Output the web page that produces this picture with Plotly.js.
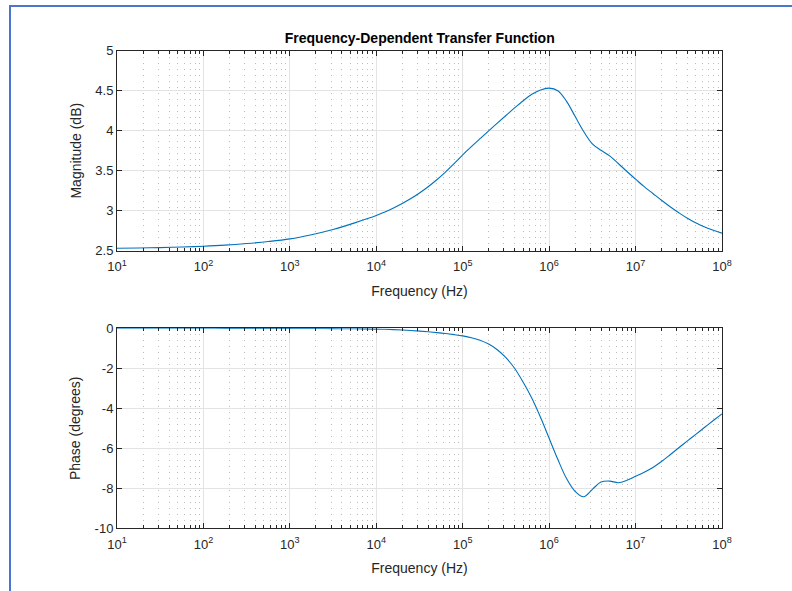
<!DOCTYPE html>
<html>
<head>
<meta charset="utf-8">
<script src="https://cdn.plot.ly/plotly-3.0.1.min.js"></script>
<style>
  html, body { margin: 0; padding: 0; background: #fff; }
  #wrap { position: relative; width: 792px; height: 591px; overflow: hidden; }
  #chart { width: 792px; height: 591px; }
  #frame { position: absolute; left: 9px; top: 5px; width: 800px; height: 600px;
           border-left: 2px solid #4a76d0; border-top: 2px solid #4a76d0; pointer-events: none; }
</style>
</head>
<body>
<div id="wrap">
  <div id="chart"></div>
  <div id="frame"></div>
</div>
<script>
// Frequencies (Hz), shared by both curves
const freq = [10, 17.78, 31.62, 56.23, 100, 177.8, 316.2, 562.3, 1000, 1778, 3162, 5623,
  10000, 12589, 15849, 19953, 25119, 31623, 39811, 50119, 63096, 79433,
  100000, 125893, 158489, 199526, 251189, 316228, 398107, 501187, 630957, 794328,
  1000000, 1258925, 1584893, 1995262, 2511886, 3162278, 3981072, 5011872, 6309573, 7943282,
  1.0e7, 1.2589e7, 1.5849e7, 1.9953e7, 2.5119e7, 3.1623e7, 3.9811e7, 5.0119e7, 6.3096e7, 7.9433e7,
  1.0e8];

// Magnitude (dB)
const magDb = [2.53, 2.534, 2.539, 2.546, 2.556, 2.57, 2.59, 2.615, 2.648, 2.70, 2.765, 2.848,
  2.94, 2.985, 3.035, 3.09, 3.152, 3.222, 3.30, 3.387, 3.483, 3.588,
  3.698, 3.80, 3.90, 3.998, 4.095, 4.19, 4.285, 4.375, 4.455, 4.51,
  4.532, 4.50, 4.37, 4.18, 3.99, 3.835, 3.755, 3.685, 3.59, 3.49,
  3.395, 3.30, 3.215, 3.13, 3.05, 2.975, 2.905, 2.845, 2.795, 2.755,
  2.72];

// Phase (degrees)
const phaseDeg = [0, 0, 0, 0, 0, -0.002, -0.003, -0.004, -0.005, -0.01, -0.015, -0.025,
  -0.04, -0.05, -0.065, -0.085, -0.11, -0.14, -0.175, -0.215, -0.26, -0.315,
  -0.38, -0.47, -0.6, -0.79, -1.07, -1.47, -2.0, -2.7, -3.5, -4.45,
  -5.5, -6.55, -7.5, -8.15, -8.42, -8.05, -7.69, -7.64, -7.72, -7.6,
  -7.4, -7.2, -6.96, -6.66, -6.32, -5.97, -5.63, -5.29, -4.95, -4.61,
  -4.28];

const xTickVals = [1e1, 1e2, 1e3, 1e4, 1e5, 1e6, 1e7, 1e8];
const xTickText = ['10<sup>1</sup>', '10<sup>2</sup>', '10<sup>3</sup>', '10<sup>4</sup>',
  '10<sup>5</sup>', '10<sup>6</sup>', '10<sup>7</sup>', '10<sup>8</sup>'];
const magTickVals = [2.5, 3, 3.5, 4, 4.5, 5];
const magTickText = ['2.5', '3', '3.5', '4', '4.5', '5'];
const phaseTickVals = [-10, -8, -6, -4, -2, 0];
const phaseTickText = ['-10', '-8', '-6', '-4', '-2', '0'];

const minorVals = [];
for (let d = 1; d < 8; d++) {
  for (let m = 2; m <= 9; m++) minorVals.push(m * Math.pow(10, d));
}

const FONT = 'Liberation Sans, Arial, Helvetica, sans-serif';
const AX = '#262626';

function xAxis(anchor) {
  return {
    type: 'log', range: [1, 8], anchor: anchor,
    tickmode: 'array', tickvals: xTickVals, ticktext: xTickText,
    ticks: 'inside', ticklen: 5, tickcolor: AX, tickwidth: 1,
    ticklabelstandoff: 4,
    showline: true, linecolor: AX, linewidth: 1, mirror: 'ticks',
    showgrid: true, gridcolor: '#e3e3e3', gridwidth: 1,
    minor: { tickmode: 'array', tickvals: minorVals, ticks: 'inside', ticklen: 3,
             tickcolor: AX, showgrid: true, gridcolor: '#bdbdbd', griddash: '1px,5px', gridwidth: 1 },
    zeroline: false,
    tickfont: { family: FONT, size: 13, color: AX },
    title: { text: 'Frequency (Hz)', font: { family: FONT, size: 14, color: AX }, standoff: 12 }
  };
}
function yAxis(anchor, range, vals, text, title) {
  return {
    range: range, anchor: anchor,
    tickmode: 'array', tickvals: vals, ticktext: text,
    ticks: 'inside', ticklen: 5, tickcolor: AX, tickwidth: 1,
    showline: true, linecolor: AX, linewidth: 1, mirror: 'ticks',
    showgrid: true, gridcolor: '#e3e3e3', gridwidth: 1,
    zeroline: false,
    tickfont: { family: FONT, size: 13, color: AX },
    title: { text: title, font: { family: FONT, size: 14, color: AX }, standoff: 10 }
  };
}

const traces = [
  { x: freq, y: magDb, type: 'scatter', mode: 'lines', xaxis: 'x', yaxis: 'y',
    line: { color: '#0072BD', width: 1.1, shape: 'spline', smoothing: 1 }, hoverinfo: 'none' },
  { x: freq, y: phaseDeg, type: 'scatter', mode: 'lines', xaxis: 'x2', yaxis: 'y2',
    line: { color: '#0072BD', width: 1.1, shape: 'spline', smoothing: 1 }, hoverinfo: 'none' }
];

const layout = {
  width: 792, height: 591,
  margin: { l: 117, r: 70, t: 0, b: 0 },
  paper_bgcolor: '#fff', plot_bgcolor: '#fff',
  showlegend: false,
  title: { text: '<b>Frequency-Dependent Transfer Function</b>',
           font: { family: FONT, size: 14, color: '#000' },
           x: 0.53, xanchor: 'center', y: 1 - 38 / 591, yanchor: 'middle' },
  xaxis: Object.assign(xAxis('y'), { domain: [0, 1] }),
  yaxis: Object.assign(yAxis('x', [2.5, 5], magTickVals, magTickText, 'Magnitude (dB)'),
                       { domain: [1 - 250.7 / 591, 1 - 50.7 / 591] }),
  xaxis2: Object.assign(xAxis('y2'), { domain: [0, 1] }),
  yaxis2: Object.assign(yAxis('x2', [-10, 0], phaseTickVals, phaseTickText, 'Phase (degrees)'),
                        { domain: [1 - 528.3 / 591, 1 - 328.3 / 591] })
};

Plotly.newPlot('chart', traces, layout, { displayModeBar: false, staticPlot: true });
</script>
</body>
</html>
